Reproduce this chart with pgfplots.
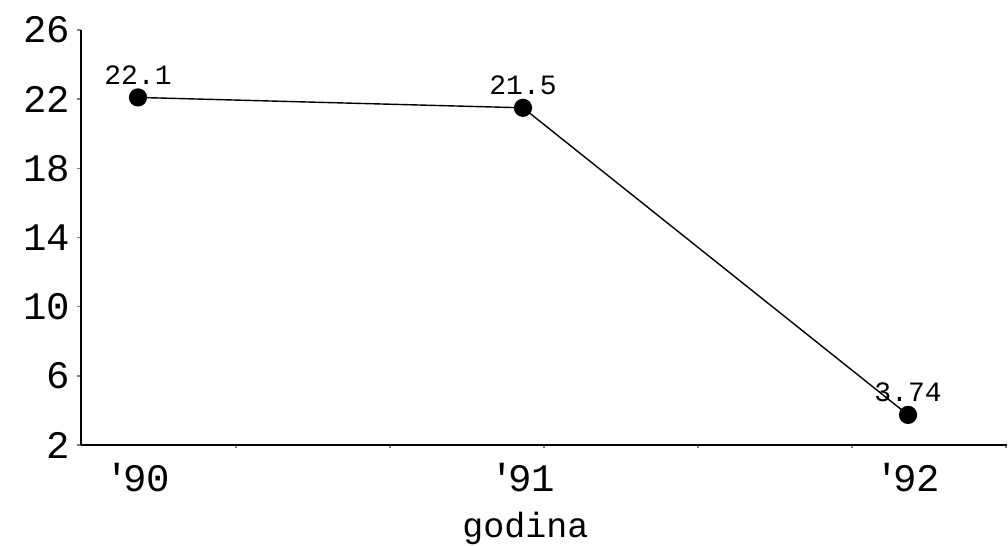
\documentclass[border=0pt]{standalone}
\usepackage{fontspec}
\setmainfont{Liberation Mono}
\usepackage{pgfplots}
\pgfplotsset{compat=1.18}

\begin{document}
\begin{tikzpicture}
% fixed canvas: 1 px = 0.5 pt
\useasboundingbox (0,0) rectangle (504pt,273pt);
\begin{axis}[
  at={(40.5pt,50.5pt)}, anchor=south west,
  scale only axis,
  width=463pt, height=207.5pt,
  axis lines*=left,
  axis line style={line width=1pt},
  xmin=-0.148, xmax=2.257,
  ymin=2, ymax=26,
  xtick={0,1,2},
  xticklabels={\textquotesingle\kern-0.15em90,\textquotesingle\kern-0.15em91,\textquotesingle\kern-0.15em92},
  minor xtick={0.2545,0.6545,1.0545,1.4545,1.8545,2.2545},
  major x tick style={draw=none},
  minor x tick style={line width=0.8pt},
  minor tick length=1.6pt,
  ytick={2,6,10,14,18,22,26},
  y tick style={line width=0.8pt},
  major tick length=1.8pt,
  tick align=outside,
  /pgf/number format/assume math mode=true,
  tick label style={font=\fontsize{19.5}{19.5}\selectfont},
  yticklabel style={xshift=0pt},
  xticklabel style={yshift=-4pt},
  xlabel={godina},
  xlabel style={at={(axis description cs:0.48,0)}, anchor=north, yshift=-30pt,
    font=\fontsize{17.5}{17.5}\selectfont},
  clip=false,
]
\addplot[black, line width=0.7pt, mark=*, mark size=4.2pt,
  mark options={fill=black},
  nodes near coords,
  point meta=explicit symbolic,
  every node near coord/.style={font=\fontsize{14}{14}\selectfont,
    anchor=south, inner sep=0pt, yshift=6pt}]
  coordinates {
    (0,22.1) [22.1]
    (1,21.5) [21.5]
    (2,3.74) [3.74]
  };
\end{axis}
\end{tikzpicture}
\end{document}
